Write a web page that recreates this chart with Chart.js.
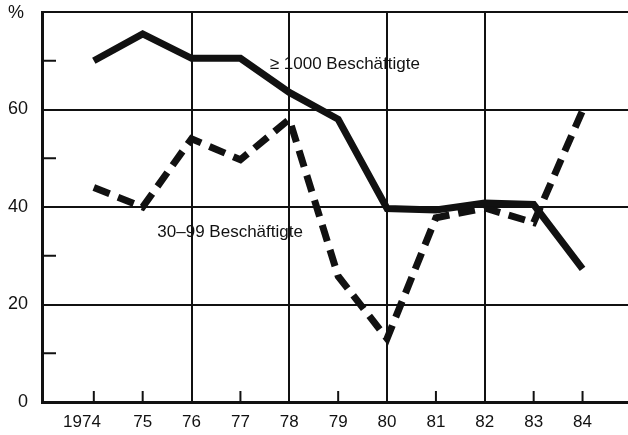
<!DOCTYPE html>
<html>
<head>
<meta charset="utf-8">
<script src="https://cdn.jsdelivr.net/npm/chart.js@4"></script>
<style>
  html, body { margin: 0; padding: 0; background: #fff; }
  #wrap { width: 628px; height: 435px; }
</style>
</head>
<body>
<div id="wrap"><canvas id="chart" width="628" height="435"></canvas></div>
<script>
// years and shares (%)
const years = [1974, 1975, 1976, 1977, 1978, 1979, 1980, 1981, 1982, 1983, 1984]
const yearLabels = ["1974     ", "75", "76", "77", "78", "79", "80", "81", "82", "83", "84"]
const big = [70, 75.5, 70.5, 70.5, 63.5, 58, 39.7, 39.4, 40.8, 40.5, 27.3]      // >= 1000 Beschäftigte
const small = [44, 40, 54, 49.7, 58, 25.8, 13, 37.8, 39.8, 36.8, 59.8]          // 30-99 Beschäftigte
const yLabelValues = [0, 20, 40, 60]
const gridYears = [1976, 1978, 1980, 1982]

const ink = "#111"
const font = "'Liberation Sans', Arial, sans-serif"

const pts = arr => arr.map((v, i) => ({ x: years[i], y: v }))

const extras = {
  id: "extras",
  afterDraw(chart) {
    const { ctx, chartArea: a, scales: { x, y } } = chart
    ctx.save()
    ctx.strokeStyle = ink
    ctx.lineWidth = 2
    // short year ticks pointing up into the plot
    years.filter(v => !gridYears.includes(v)).forEach(v => {
      const px = x.getPixelForValue(v)
      ctx.beginPath(); ctx.moveTo(px, a.bottom); ctx.lineTo(px, a.bottom - 11); ctx.stroke()
    })
    // half steps on the y axis
    ;[10, 30, 50, 70].forEach(v => {
      const py = y.getPixelForValue(v)
      ctx.beginPath(); ctx.moveTo(a.left, py); ctx.lineTo(a.left + 14, py); ctx.stroke()
    })
    ctx.fillStyle = ink
    ctx.font = "18px " + font
    ctx.textBaseline = "middle"
    ctx.textAlign = "left"
    ctx.fillText("%", 8, 13)
    ctx.font = "17px " + font
    ctx.fillText("\u2265 1000 Beschäftigte", x.getPixelForValue(1977.6), y.getPixelForValue(69.2))
    ctx.fillText("30\u201399 Beschäftigte", x.getPixelForValue(1975.3), y.getPixelForValue(34.8))
    ctx.restore()
  }
}

new Chart(document.getElementById("chart"), {
  type: "line",
  data: {
    datasets: [
      {
        label: "\u2265 1000 Beschäftigte",
        data: pts(big),
        borderColor: ink,
        borderWidth: 7,
        borderJoinStyle: "miter",
        pointRadius: 0,
        tension: 0
      },
      {
        label: "30\u201399 Beschäftigte",
        data: pts(small),
        borderColor: ink,
        borderWidth: 7,
        borderDash: [17, 9],
        borderJoinStyle: "miter",
        pointRadius: 0,
        tension: 0
      }
    ]
  },
  options: {
    responsive: false,
    animation: false,
    layout: { padding: { top: 12, right: 0, left: 0, bottom: 0 } },
    plugins: { legend: { display: false }, tooltip: { enabled: false } },
    scales: {
      x: {
        type: "linear",
        min: 1972.94,
        max: 1984.93,
        afterBuildTicks: s => { s.ticks = years.map(v => ({ value: v })) },
        afterFit: s => { s.height = 33 },
        ticks: {
          autoSkip: false,
          maxRotation: 0,
          padding: 10,
          color: ink,
          font: { family: font, size: 17 },
          callback: v => yearLabels[years.indexOf(v)]
        },
        grid: {
          drawTicks: false,
          lineWidth: 2,
          color: c => c.tick && gridYears.includes(c.tick.value) ? ink : "rgba(0,0,0,0)"
        },
        border: { display: true, color: ink, width: 3 }
      },
      y: {
        min: 0,
        max: 80,
        afterBuildTicks: s => { s.ticks = [0, 20, 40, 60, 80].map(v => ({ value: v })) },
        afterFit: s => { s.width = 42; s.paddingTop = 0; s.paddingBottom = 0 },
        ticks: {
          padding: 14,
          color: ink,
          font: { family: font, size: 18 },
          callback: v => yLabelValues.includes(v) ? String(v) : ""
        },
        grid: {
          drawTicks: false,
          lineWidth: 2,
          color: c => c.tick && c.tick.value > 0 ? ink : "rgba(0,0,0,0)"
        },
        border: { display: true, color: ink, width: 3 }
      }
    }
  },
  plugins: [extras]
})
</script>
</body>
</html>
